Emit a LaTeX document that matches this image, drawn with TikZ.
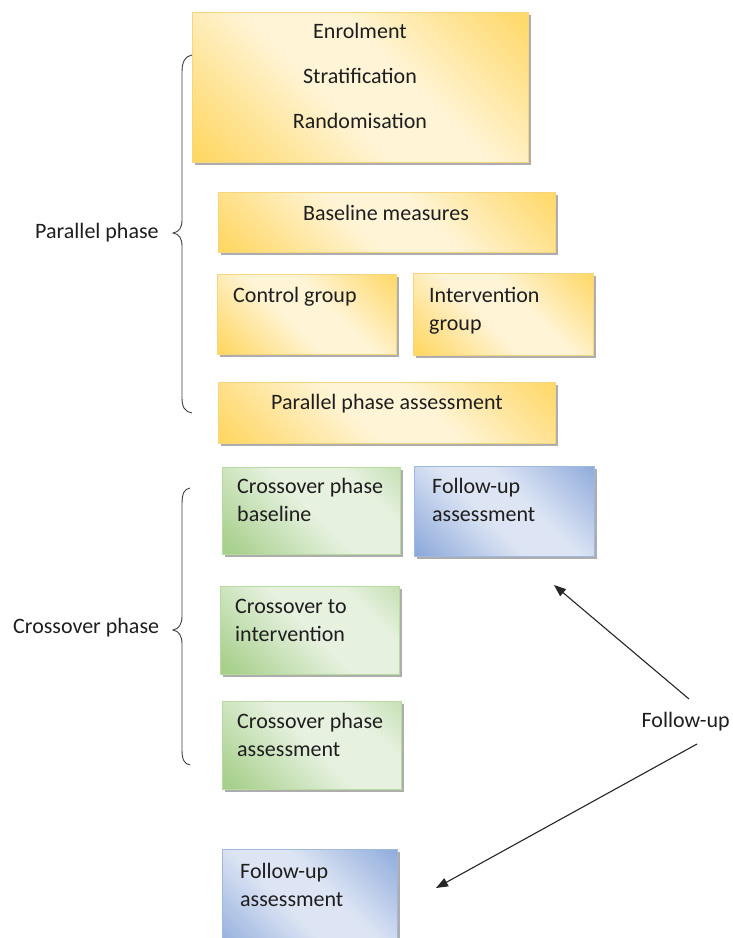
\documentclass[tikz,border=0pt]{standalone}
\usepackage{fontspec}
\setmainfont{Carlito}
\usetikzlibrary{arrows.meta,shadows}

% palette
\definecolor{ydark}{HTML}{FFD763}
\definecolor{ylight}{HTML}{FFF4D6}
\definecolor{yedge}{HTML}{F7D57E}
\definecolor{gdark}{HTML}{A8D08D}
\definecolor{glight}{HTML}{E6F1DF}
\definecolor{gedge}{HTML}{B8DCA0}
\definecolor{bdark}{HTML}{8EAADB}
\definecolor{blight}{HTML}{DDE5F4}
\definecolor{bedge}{HTML}{9FB8E2}
\definecolor{txt}{HTML}{1E1E1E}

% diagonal gradients: dark in two opposite corners, light along the middle
\pgfdeclarehorizontalshading{yshade}{100bp}{color(0bp)=(ydark); color(16bp)=(ydark); color(44bp)=(ylight); color(58bp)=(ylight); color(86bp)=(ydark); color(100bp)=(ydark)}
\pgfdeclarehorizontalshading{gshade}{100bp}{color(0bp)=(gdark); color(18bp)=(gdark); color(50bp)=(glight); color(70bp)=(glight); color(88bp)=(gdark!60!glight); color(100bp)=(gdark!60!glight)}
\pgfdeclarehorizontalshading{bshade}{100bp}{color(0bp)=(bdark); color(16bp)=(bdark); color(44bp)=(blight); color(58bp)=(blight); color(86bp)=(bdark); color(100bp)=(bdark)}

\tikzset{
  card/.style={rectangle, anchor=north west, inner sep=0pt, line width=0.8pt,
    general shadow={fill=black!32, shadow xshift=3pt, shadow yshift=-3pt}},
  ycard/.style={card, draw=yedge, shading=yshade, shading angle=45},
  gcard/.style={card, draw=gedge, shading=gshade, shading angle=45},
  bcard/.style={card, draw=bedge, shading=bshade, shading angle=45},
  lbl/.style={inner sep=0pt, text=txt, font=\fontsize{22}{28}\selectfont},
  brc/.style={draw=black!75, line width=0.9pt},
  arr/.style={draw=black!85, line width=1.1pt, -{Triangle[length=12pt,width=9pt]}},
}

\begin{document}
\begin{tikzpicture}[x=1pt,y=-1pt]
\useasboundingbox (0,0) rectangle (733,938);
\clip (0,0) rectangle (733,938);
\fill[white] (0,0) rectangle (733,938);

% parallel phase boxes (two-line labels are placed by their last baseline)
\node[ycard, minimum width=336pt, minimum height=150pt] (enrol) at (192,12) {};
\node[lbl, anchor=base] (tenrol) at (360,38) {Enrolment};
\node[lbl, anchor=base] (tstrat) at (360,83) {Stratification};
\node[lbl, anchor=base] (trand)  at (360,128) {Randomisation};

\node[ycard, minimum width=337pt, minimum height=60pt] (base) at (218,192) {};
\node[lbl, anchor=base] (tbase) at (386,220) {Baseline measures};

\node[ycard, minimum width=179pt, minimum height=80pt] (ctrl) at (217,274) {};
\node[lbl, anchor=base west] (tctrl) at (233,302) {Control group};

\node[ycard, minimum width=180pt, minimum height=82pt] (intv) at (413,273) {};
\node[lbl, anchor=base west, align=left] (tintv) at (429,330) {Intervention\\group};

\node[ycard, minimum width=337pt, minimum height=61pt] (ppa) at (218,382) {};
\node[lbl, anchor=base] (tppa) at (387,409) {Parallel phase assessment};

% crossover phase boxes
\node[gcard, minimum width=178pt, minimum height=87pt] (cpb) at (222,467) {};
\node[lbl, anchor=base west, align=left] (tcpb) at (237,521) {Crossover phase\\baseline};

\node[bcard, minimum width=180pt, minimum height=90pt] (fua) at (414,466) {};
\node[lbl, anchor=base west, align=left] (tfua) at (432,521) {Follow-up\\assessment};

\node[gcard, minimum width=179pt, minimum height=88pt] (cti) at (220,586) {};
\node[lbl, anchor=base west, align=left] (tcti) at (235,641) {Crossover to\\intervention};

\node[gcard, minimum width=179pt, minimum height=88pt] (cpa) at (222,701) {};
\node[lbl, anchor=base west, align=left] (tcpa) at (237,756) {Crossover phase\\assessment};

\node[bcard, minimum width=175pt, minimum height=110pt] (fub) at (222,849) {};
\node[lbl, anchor=base west, align=left] (tfub) at (240,906) {Follow-up\\assessment};

% phase labels and braces
\node[lbl, anchor=base west] (parlbl) at (35,238) {Parallel phase};
\node[lbl, anchor=base west] (crolbl) at (13,633) {Crossover phase};

\draw[brc] (192,55) .. controls (185,56) and (182,62) .. (182,72)
  -- (182,220) .. controls (182,228) and (179,232) .. (173,233)
  .. controls (179,234) and (182,238) .. (182,246)
  -- (182,398) .. controls (182,407) and (185,412) .. (192,413);

\draw[brc] (190,488) .. controls (184,489) and (182,494) .. (182,504)
  -- (182,616) .. controls (182,624) and (179,629) .. (173,630)
  .. controls (179,631) and (182,636) .. (182,644)
  -- (182,750) .. controls (182,759) and (184,764) .. (190,765);

% follow-up pointers
\node[lbl, anchor=base east] (fulbl) at (730,727) {Follow-up};
\coordinate (s1) at (689,699);
\coordinate (e1) at (554,585);
\coordinate (s2) at (697,744);
\coordinate (e2) at (436,888);
\draw[arr] (s1) -- (e1);
\draw[arr] (s2) -- (e2);
\end{tikzpicture}
\end{document}
